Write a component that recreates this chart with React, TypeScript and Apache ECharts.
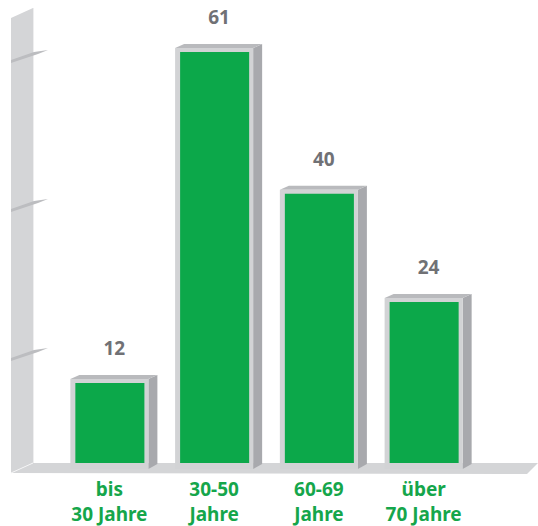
import React, { useEffect, useRef } from "react";
import * as echarts from "echarts";

const categories = ["bis\n30 Jahre", "30-50\nJahre", "60-69\nJahre", "über\n70 Jahre"];
const values = [12, 61, 40, 24];

const GREEN = "#0ca84a";
const FRAME = "#d2d3d5";
const SIDE = "#a8a9ad";
const TOPFACE = "#b9babd";
const WALL = "#d4d5d7";
const TICK = "#bcbdc0";

export default function App() {
  const ref = useRef<HTMLDivElement>(null);
  useEffect(() => {
    if (!ref.current) return;
    const chart = echarts.init(ref.current, undefined, { renderer: "svg" });
    const tickYs = [62, 211, 360];
    chart.setOption({
      animation: false,
      backgroundColor: "#ffffff",
      grid: { left: 57, right: 62, top: 21, bottom: 63 },
      xAxis: {
        type: "category",
        data: categories,
        axisLine: { show: false },
        axisTick: { show: false },
        axisLabel: {
          margin: 16,
          color: "#15a64b",
          fontFamily: "Noto Sans",
          fontWeight: "bold",
          fontSize: 19,
          lineHeight: 25,
          interval: 0,
        },
      },
      yAxis: {
        type: "value",
        min: 0,
        max: 65,
        show: false,
        splitLine: { show: false },
      },
      graphic: [
        {
          type: "polygon",
          z: -10,
          shape: { points: [[11, 18], [33, 8], [33, 463], [11, 473]] },
          style: { fill: WALL },
        },
        {
          type: "polygon",
          z: -10,
          shape: { points: [[11, 473], [33, 463], [538, 463], [527, 474]] },
          style: { fill: WALL },
        },
        {
          type: "line",
          z: -9,
          shape: { x1: 33.5, y1: 8, x2: 33.5, y2: 463 },
          style: { stroke: "#eeeeef", lineWidth: 1 },
        },
        {
          type: "line",
          z: -9,
          shape: { x1: 11, y1: 473, x2: 33, y2: 463 },
          style: { stroke: "#f4f4f5", lineWidth: 1 },
        },
        ...tickYs.map((y) => ({
          type: "polygon",
          z: -8,
          shape: { points: [[11, y - 2], [34, y - 10], [48, y - 12], [38, y - 8], [11, y + 1]] },
          style: { fill: TICK },
        })),
      ],
      series: [
        {
          type: "custom",
          data: values.map((v, i) => [i, v]),
          renderItem: (params: any, api: any) => {
            const idx = api.value(0);
            const v = api.value(1);
            const [cx, yTop] = api.coord([idx, v]);
            const [, y0] = api.coord([idx, 0]);
            const bw = api.size([1, 0])[0] * 0.745;
            const L = cx - bw / 2;
            const R = cx + bw / 2;
            const dx = 9;
            const dy = 4;
            const bottom = y0 + 9;
            return {
              type: "group",
              children: [
                {
                  type: "polygon",
                  shape: { points: [[R, yTop], [R + dx, yTop - dy], [R + dx, y0 + 4], [R, bottom]] },
                  style: { fill: SIDE },
                },
                {
                  type: "polygon",
                  shape: { points: [[L, yTop], [L + dx, yTop - dy], [R + dx, yTop - dy], [R, yTop]] },
                  style: { fill: TOPFACE },
                },
                {
                  type: "rect",
                  shape: { x: L, y: yTop, width: bw, height: bottom - yTop },
                  style: { fill: FRAME },
                },
                {
                  type: "rect",
                  shape: { x: L + 5, y: yTop + 4, width: bw - 9, height: y0 + 3 - (yTop + 4) },
                  style: { fill: GREEN },
                },
                {
                  type: "text",
                  style: {
                    text: String(v),
                    x: cx + 5,
                    y: yTop - 31,
                    fill: "#707175",
                    font: "bold 19px 'Noto Sans'",
                    align: "center",
                    verticalAlign: "middle",
                  },
                },
              ],
            };
          },
        },
      ],
    });
    return () => chart.dispose();
  }, []);
  return (
    <div
      ref={ref}
      style={{ position: "absolute", left: 0, top: 0, width: 538, height: 526 }}
    />
  );
}
